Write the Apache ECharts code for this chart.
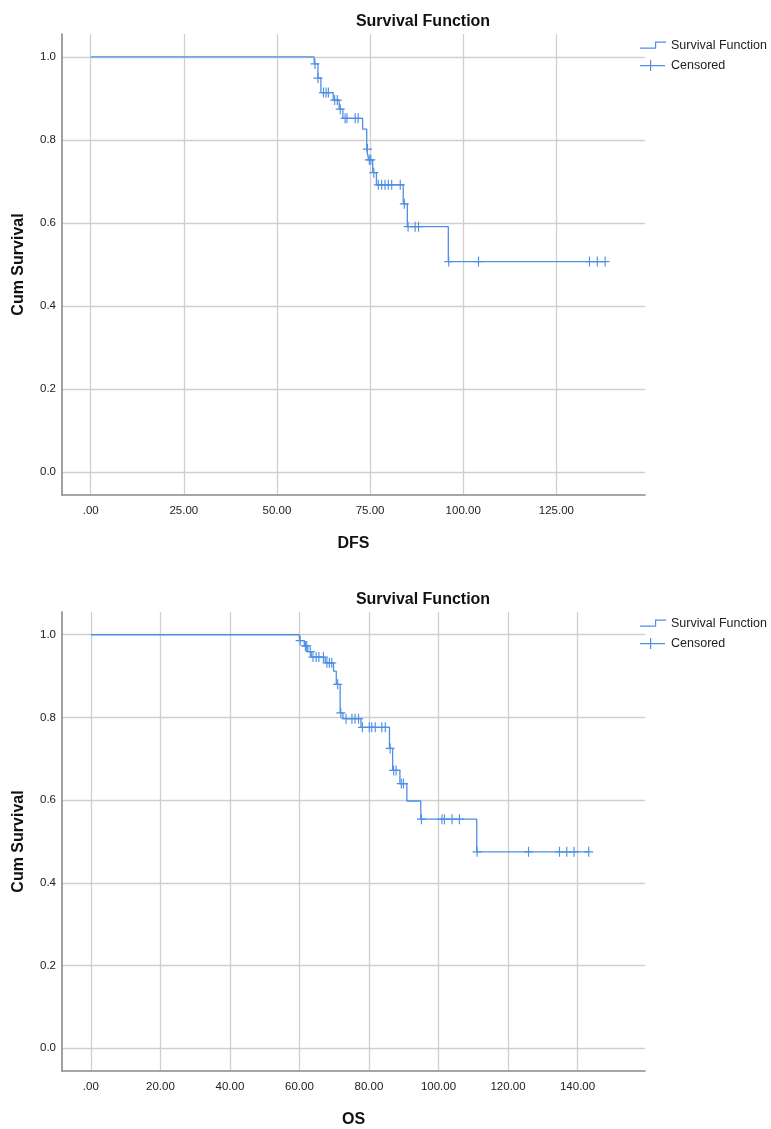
<!DOCTYPE html>
<html>
<head>
<meta charset="utf-8">
<script src="https://cdn.jsdelivr.net/npm/echarts@6/dist/echarts.min.js"></script>
<style>
html,body{margin:0;padding:0;background:#fff;}
#chart{width:771px;height:1129px;}
</style>
</head>
<body>
<div id="chart"></div>
<script>
// ---------- DATA ----------
const dfsEventTimes = [60.0, 61.0, 61.8, 65.1, 66.7, 67.7, 73.0, 74.1, 74.6, 75.7, 76.7, 83.9, 85.0, 96.0];
const dfsEventSurv  = [0.983, 0.949, 0.914, 0.896, 0.874, 0.852, 0.826, 0.778, 0.752, 0.721, 0.692, 0.646, 0.591, 0.507];
const dfsCensorTimes = [60.2, 61.0, 62.5, 63.2, 63.8, 65.5, 66.2, 67.0, 68.3, 68.8, 71.0, 71.8, 74.3, 74.8, 75.2, 76.0, 77.2, 78.1, 79.0, 79.9, 80.8, 83.1, 84.2, 85.2, 87.1, 88.0, 96.1, 104.1, 133.9, 136.0, 138.1];

const osEventTimes = [60.0, 61.4, 62.4, 63.4, 67.4, 69.8, 70.6, 71.7, 72.5, 77.7, 85.9, 86.8, 88.9, 90.9, 94.9, 111.0];
const osEventSurv  = [0.986, 0.973, 0.959, 0.946, 0.932, 0.912, 0.880, 0.811, 0.797, 0.776, 0.725, 0.672, 0.640, 0.598, 0.554, 0.475];
const osCensorTimes = [60.2, 61.7, 62.1, 63.1, 63.9, 64.8, 65.6, 66.9, 67.9, 68.6, 69.3, 71.0, 71.9, 73.4, 75.1, 76.0, 77.0, 78.1, 80.1, 80.8, 81.8, 83.7, 84.7, 86.1, 87.1, 87.8, 89.3, 89.9, 95.1, 101.0, 101.7, 103.9, 106.0, 111.1, 125.9, 134.8, 136.9, 139.0, 143.2];

const dfsXTicks = [0, 25, 50, 75, 100, 125];
const osXTicks  = [0, 20, 40, 60, 80, 100, 120, 140];
const yTicks    = [0, 0.2, 0.4, 0.6, 0.8, 1.0];

const titleText = 'Survival Function';
const yName = 'Cum Survival';
const dfsName = 'DFS';
const osName = 'OS';
const lineName = 'Survival Function';
const censName = 'Censored';

// ---------- HELPERS ----------
function survAt(times, surv, t) {
  let s = 1;
  for (let i = 0; i < times.length; i++) { if (times[i] <= t) s = surv[i]; }
  return s;
}
function stepData(times, surv, censors) {
  const pts = [[0, 1]];
  times.forEach((t, i) => pts.push([t, surv[i]]));
  const lastT = Math.max(times[times.length - 1], censors[censors.length - 1]);
  pts.push([lastT, survAt(times, surv, lastT)]);
  return pts;
}
function censorData(times, surv, censors) {
  return censors.map(t => [t, survAt(times, surv, t)]);
}

const BLUE = '#4f8fe6';
const AXIS = '#8a8a8a';
const GRIDC = '#cfcfcf';
const FONT = 'Liberation Sans, Arial, sans-serif';
const PLUS = 'path://M0,5 L9,5 M4.5,0 L4.5,10';
const STEP_ICON = 'path://M0,0 L0,0 M26,11 L26,11 M0,7.5 L15,7.5 L15,1.5 L26,1.5 L26,2.7 L16.2,2.7 L16.2,8.7 L0,8.7 Z';
const PLUS_ICON = 'path://M0,0 L0,0 M26,11 L26,11 M0,5 L25,5 L25,6.2 L0,6.2 Z M10,0 L11.2,0 L11.2,11 L10,11 Z';

const xFmt = v => (v === 0 ? '.00' : v.toFixed(2));
const yFmt = v => v.toFixed(1);

function xAxisCfg(gridIndex, min, max, ticks, name) {
  return {
    type: 'value', gridIndex, min, max, name,
    nameLocation: 'middle', nameGap: 41,
    nameTextStyle: { fontFamily: FONT, fontSize: 16, fontWeight: 'bold', color: '#111' },
    axisLine: { show: true, onZero: false, lineStyle: { color: AXIS, width: 1.6 } },
    axisTick: { show: false, customValues: ticks },
    axisLabel: { customValues: ticks, formatter: xFmt, margin: 10, fontFamily: FONT, fontSize: 11.5, color: '#222' },
    splitLine: { show: true, lineStyle: { color: GRIDC, width: 1.3 } }
  };
}
function yAxisCfg(gridIndex) {
  return {
    type: 'value', gridIndex, min: -0.055, max: 1.055, name: yName,
    nameLocation: 'middle', nameGap: 35, nameRotate: 90,
    nameTextStyle: { fontFamily: FONT, fontSize: 16, fontWeight: 'bold', color: '#111' },
    axisLine: { show: true, onZero: false, lineStyle: { color: AXIS, width: 1.6 } },
    axisTick: { show: false, customValues: yTicks },
    axisLabel: { customValues: yTicks, formatter: yFmt, margin: 6, fontFamily: FONT, fontSize: 11.5, color: '#222' },
    splitLine: { show: true, lineStyle: { color: GRIDC, width: 1.3 } }
  };
}
function legendCfg(top) {
  return {
    orient: 'vertical', left: 640, top, padding: 0, itemGap: 7,
    itemWidth: 26, itemHeight: 11,
    textStyle: { fontFamily: FONT, fontSize: 12.5, color: '#222' },
    selectedMode: false,
    data: [
      { name: lineName, icon: STEP_ICON, itemStyle: { color: BLUE, borderWidth: 0 } },
      { name: censName, icon: PLUS_ICON, itemStyle: { color: BLUE, borderWidth: 0 } }
    ]
  };
}
function lineSeries(xi, data) {
  return {
    name: lineName, type: 'line', xAxisIndex: xi, yAxisIndex: xi, step: 'end',
    data, showSymbol: false, symbol: 'none', animation: false, silent: true,
    lineStyle: { color: BLUE, width: 1.3 }, itemStyle: { color: BLUE }, z: 3
  };
}
function censSeries(xi, data) {
  return {
    name: censName, type: 'scatter', xAxisIndex: xi, yAxisIndex: xi,
    data, symbol: PLUS, symbolSize: [9, 10], animation: false, silent: true,
    itemStyle: { color: 'none', borderColor: BLUE, borderWidth: 1.2, opacity: 1 }, z: 4
  };
}

const chart = echarts.init(document.getElementById('chart'), null, { renderer: 'canvas' });
chart.setOption({
  backgroundColor: '#fff',
  animation: false,
  title: [
    { text: titleText, left: 418, top: 9, textAlign: 'center',
      textStyle: { fontFamily: FONT, fontSize: 16, fontWeight: 'bold', color: '#111' } },
    { text: titleText, left: 418, top: 587, textAlign: 'center',
      textStyle: { fontFamily: FONT, fontSize: 16, fontWeight: 'bold', color: '#111' } }
  ],
  legend: [legendCfg(39), legendCfg(617)],
  grid: [
    { left: 62, top: 34, width: 583, height: 461 },
    { left: 62, top: 612, width: 583, height: 462 }
  ],
  xAxis: [
    xAxisCfg(0, -7.7, 148.8, dfsXTicks, dfsName),
    xAxisCfg(1, -8.3, 159.4, osXTicks, osName)
  ],
  yAxis: [yAxisCfg(0), yAxisCfg(1)],
  series: [
    lineSeries(0, stepData(dfsEventTimes, dfsEventSurv, dfsCensorTimes)),
    censSeries(0, censorData(dfsEventTimes, dfsEventSurv, dfsCensorTimes)),
    lineSeries(1, stepData(osEventTimes, osEventSurv, osCensorTimes)),
    censSeries(1, censorData(osEventTimes, osEventSurv, osCensorTimes))
  ]
});
</script>
</body>
</html>
